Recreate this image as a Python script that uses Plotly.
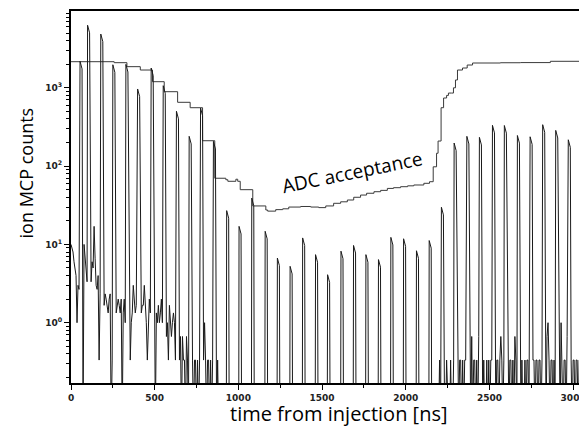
import plotly.graph_objects as go

# ---------------- data ----------------
# ion MCP pulses: centre time [ns] and peak counts
pulse_t = [61, 106, 185, 257, 335, 405, 486, 558, 637, 713, 781, 858,
           937, 1011, 1087, 1167, 1240, 1316, 1391, 1468, 1540, 1620, 1695,
           1769, 1844, 1918, 1994, 2071, 2147, 2220, 2296, 2372, 2447, 2525,
           2596, 2674, 2750, 2825, 2903, 2978]
pulse_peak = [2180, 6300, 4860, 1970, 1990, 966, 1790, 1064, 502, 240, 552, 207,
              27, 17, 39, 14.7, 6.7, 5.25, 12.1, 7.4, 4.1, 8.2, 9.7,
              7.4, 6.4, 12.3, 11.8, 8.3, 11.2, 29.8, 197, 240, 233, 332,
              330, 246, 237, 338, 286, 217]

# background counts between pulses (units of 1/3 count), 6 ns bins
early_t0 = 0
late_t0 = 2190
bin_ns = 6
early_noise = [30, 27, 24, 18, 15, 12, 3, 9, 8, 7, 0, 6, 0, 30, 20, 12, 10, 9, 12, 9,
               10, 18, 15, 51, 20, 9, 8, 12, 1, 7, 6, 9, 6, 5, 7, 6, 5, 4, 6, 7,
               0, 1, 4, 5, 6, 4, 5, 6, 5, 4, 6, 0, 4, 6, 3, 5, 4, 6, 5, 1,
               3, 4, 9, 6, 4, 5, 5, 4, 3, 6, 4, 5, 5, 9, 6, 3, 1, 4, 6, 4,
               5, 4, 3, 1, 0, 4, 3, 5, 3, 4, 6, 3, 3, 3, 4, 2, 3, 1, 5, 3,
               2, 3, 4, 3, 1, 2, 2, 2, 1, 2, 0, 2, 1, 1, 0, 2, 1, 0, 1, 1,
               0, 1, 0, 1, 1, 0, 1, 0, 1, 1, 0, 0, 1, 3, 1, 0, 1, 1, 0, 1,
               0, 1, 1, 0, 1, 0, 1, 0]
late_noise = [0, 0, 1, 0, 0, 0, 0, 0, 0, 1, 0, 0, 0, 1, 0, 0, 1, 0, 0, 1,
              1, 0, 1, 1, 0, 1, 0, 1, 1, 0, 0, 0, 1, 0, 2, 0, 1, 1, 0, 1,
              0, 2, 0, 0, 1, 0, 1, 0, 0, 1, 0, 1, 0, 1, 1, 0, 0, 1, 0, 1,
              1, 0, 1, 2, 1, 0, 1, 0, 0, 1, 1, 0, 1, 1, 0, 1, 0, 2, 1, 0,
              0, 0, 1, 0, 1, 0, 0, 1, 0, 1, 1, 0, 1, 0, 0, 1, 1, 0, 1, 1,
              0, 1, 1, 0, 1, 0, 0, 1, 0, 2, 3, 1, 0, 1, 1, 0, 1, 0, 0, 0,
              1, 1, 0, 3, 1, 0, 1, 1, 0, 2, 1, 0, 0, 1, 0, 1, 1, 0, 1, 1,
              0, 1]

# ADC acceptance (step line)
acc_t = [0, 258, 334, 414, 487, 557, 637, 712, 786, 859, 925, 937, 985, 996,
         1011, 1086, 1164, 1175, 1223, 1265, 1301, 1372, 1432, 1480, 1522,
         1569, 1611, 1651, 1689, 1730, 1766, 1810, 1850, 1890, 1927, 1969,
         2011, 2048, 2108, 2142, 2164, 2184, 2193, 2205, 2211, 2226, 2244,
         2255, 2273, 2285, 2297, 2309, 2339, 2367, 2399, 2566, 2685, 2864, 3040]
acc_v = [2155, 2094, 1862, 1687, 1197, 892, 653, 557, 211, 70, 67, 64, 68, 64,
         50, 31, 27.5, 26.6, 27.8, 28.5, 30, 30.5, 30, 29.5, 31,
         33.5, 35, 36.9, 40, 42.7, 45, 47.1, 49, 51.9, 53, 54.6,
         56, 57.4, 60.3, 63.2, 98, 146, 209, 209, 557, 741, 800,
         857, 857, 1000, 1259, 1687, 1790, 1955, 2074, 2090, 2100, 2180, 2180]

ytick_vals = [1, 10, 100, 1000]
ytick_text = ["10<sup>0</sup>", "10<sup>1</sup>", "10<sup>2</sup>", "10<sup>3</sup>"]

# ---------------- build counts trace ----------------
FLOOR = 0.05
early_end = early_t0 + bin_ns * (len(early_noise) - 1)
late_end = late_t0 + bin_ns * (len(late_noise) - 1)


def near_pulse(t):
    return any(abs(t - p) < 10 for p in pulse_t)


pts = []
for i, v in enumerate(early_noise):
    t = early_t0 + i * bin_ns
    if not near_pulse(t):
        pts.append((t, v / 3 if v > 0 else FLOOR))
for i, v in enumerate(late_noise):
    t = late_t0 + i * bin_ns
    if not near_pulse(t):
        pts.append((t, v / 3 if v > 0 else FLOOR))
for t, pk in zip(pulse_t, pulse_peak):
    inside = (early_t0 <= t <= early_end) or (late_t0 <= t <= late_end)
    if not inside:
        pts.append((t - 9, FLOOR))
        pts.append((t + 8, FLOOR))
    pts.append((t - 7, pk))
    pts.append((t + 5, pk * 0.8))
pts.sort(key=lambda p: p[0])
cx = [p[0] for p in pts]
cy = [p[1] for p in pts]

minor_y = [m * 10 ** d for d in range(-1, 4) for m in range(2, 10)]

fig = go.Figure()
fig.add_trace(go.Scatter(x=acc_t, y=acc_v, mode="lines",
                         line=dict(color="#3a3a3a", width=1, shape="hv"),
                         hoverinfo="skip"))
fig.add_trace(go.Scatter(x=cx, y=cy, mode="lines",
                         line=dict(color="#1a1a1a", width=1),
                         hoverinfo="skip"))

tickfont = dict(family="DejaVu Sans", size=9, color="#222", weight="bold")
fig.update_layout(
    template="none",
    width=579, height=427,
    margin=dict(l=71, r=0, t=11, b=44),
    paper_bgcolor="white", plot_bgcolor="white",
    showlegend=False,
    xaxis=dict(range=[0, 3035], showline=True, linecolor="black", linewidth=2,
               mirror=True, ticks="outside", ticklen=5, tickwidth=1,
               tickcolor="black", tick0=0, dtick=500,
               minor=dict(ticks="outside", ticklen=3, dtick=250, tickcolor="black"),
               tickfont=tickfont, ticklabeloverflow="allow",
               showgrid=False, zeroline=False),
    yaxis=dict(type="log", range=[-0.770, 3.981], showline=True,
               linecolor="black", linewidth=2, mirror=False,
               ticks="outside", ticklen=5, tickwidth=1, tickcolor="black",
               tickmode="array", tickvals=ytick_vals, ticktext=ytick_text,
               minor=dict(ticks="outside", ticklen=3, tickcolor="black",
                          tickmode="array", tickvals=minor_y),
               tickfont=tickfont, showgrid=False, zeroline=False),
    annotations=[
        dict(text="time from injection [ns]", xref="paper", yref="paper",
             x=0.5285, y=-0.083, xanchor="center", yanchor="middle",
             showarrow=False, font=dict(family="Open Sans", size=20, color="black")),
        dict(text="ion MCP counts", xref="paper", yref="paper",
             x=-0.0886, y=0.566, xanchor="center", yanchor="middle", textangle=-90,
             showarrow=False, font=dict(family="Open Sans", size=18, color="black")),
        dict(text="ADC acceptance", xref="paper", yref="paper",
             x=0.555, y=0.567, xanchor="center", yanchor="middle", textangle=-11.5,
             showarrow=False, font=dict(family="Open Sans", size=19, color="black")),
    ],
)

fig.write_html("out.html")
